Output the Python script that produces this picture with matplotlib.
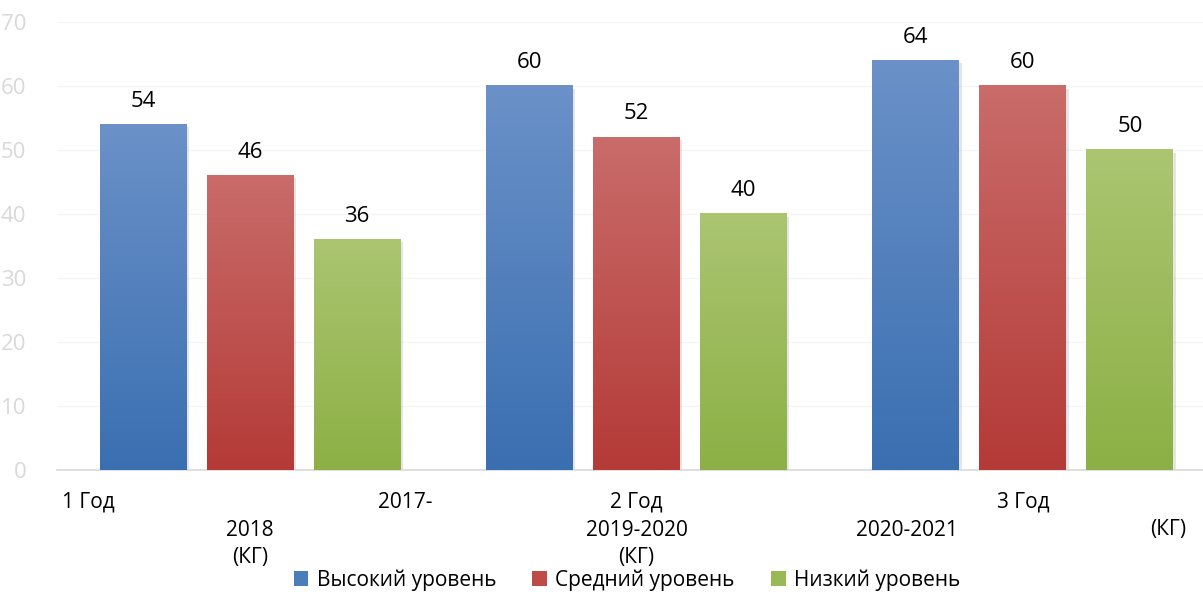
import numpy as np
import matplotlib
matplotlib.use('Agg')
import matplotlib.pyplot as plt
from matplotlib.patches import Patch, Rectangle
from matplotlib.colors import LinearSegmentedColormap

plt.rcParams['font.family'] = ['Open Sans', 'DejaVu Sans']

series = ['Высокий уровень', 'Средний уровень', 'Низкий уровень']
high = [54, 60, 64]
mid = [46, 52, 60]
low = [36, 40, 50]
values = [high, mid, low]

# gradient colours: (top, bottom), legend colour
tops = ['#6b91c8', '#c96c6a', '#abc571']
bottoms = ['#3a6fb1', '#b43a37', '#8cb045']
legend_cols = ['#4a7ebb', '#be4b48', '#98b954']

fig = plt.figure(figsize=(12.03, 5.92), dpi=100)
ax = fig.add_axes([57 / 1203, 122 / 592, (1216 - 57) / 1203, (470 - 22) / 592])
ax.set_xlim(-0.5, 2.5)
ax.set_ylim(0, 70)

width = 0.225
step = 0.277
x = np.arange(3)

for i, vals in enumerate(values):
    cmap = LinearSegmentedColormap.from_list(f'g{i}', [bottoms[i], tops[i]])
    for j, v in enumerate(vals):
        xc = x[j] + (i - 1) * step
        x0 = xc - width / 2
        # soft shadow
        ax.add_patch(Rectangle((x0 + 0.006, -0.4), width, v, color='#000000',
                               alpha=0.1, lw=0, zorder=2))
        grad = np.linspace(0, 1, 256).reshape(-1, 1)
        ax.imshow(grad, cmap=cmap, origin='lower', aspect='auto',
                  extent=(x0, x0 + width, 0, v), zorder=3)
        ax.text(xc, v + 2, str(v), ha='center', va='bottom', fontsize=16,
                color='#000000', zorder=4)

ax.set_xlim(-0.5, 2.5)
ax.set_ylim(0, 70)

ax.set_yticks(range(0, 71, 10))
ax.set_xticks([])
ax.tick_params(axis='y', length=0, pad=22, labelsize=16, labelcolor='#d9d9d9')
ax.grid(axis='y', color='#f5f5f5', lw=1)
ax.set_axisbelow(True)
for s in ['top', 'right', 'left']:
    ax.spines[s].set_visible(False)
ax.spines['bottom'].set_color('#d9d9d9')
ax.spines['bottom'].set_linewidth(1.2)

# category labels, laid out as in the original
cat_texts = [
    ('1 Год', -0.487, 90, 'left'),
    ('2017-', 0.473, 90, 'right'),
    ('2018', 0.0, 62, 'center'),
    ('(КГ)', 0.0, 34, 'center'),
    ('2 Год', 1.0, 90, 'center'),
    ('2019-2020', 1.0, 62, 'center'),
    ('(КГ)', 1.0, 34, 'center'),
    ('3 Год', 2.0, 90, 'center'),
    ('2020-2021', 1.70, 62, 'center'),
    ('(КГ)', 2.377, 62, 'center'),
]
for t, xx, yy, ha in cat_texts:
    ax.annotate(t, xy=(xx, yy), xycoords=('data', 'figure pixels'),
                ha=ha, va='center', fontsize=15, color='#000000',
                annotation_clip=False)

handles = [Patch(facecolor=c, edgecolor='none') for c in legend_cols]
fig.legend(handles, series, loc='center', bbox_to_anchor=(627 / 1203, 12 / 592),
           ncol=3, frameon=False, fontsize=15, handlelength=0.7, handleheight=0.7,
           handletextpad=0.4, columnspacing=1.75)

fig.savefig('out.png', dpi=100)
